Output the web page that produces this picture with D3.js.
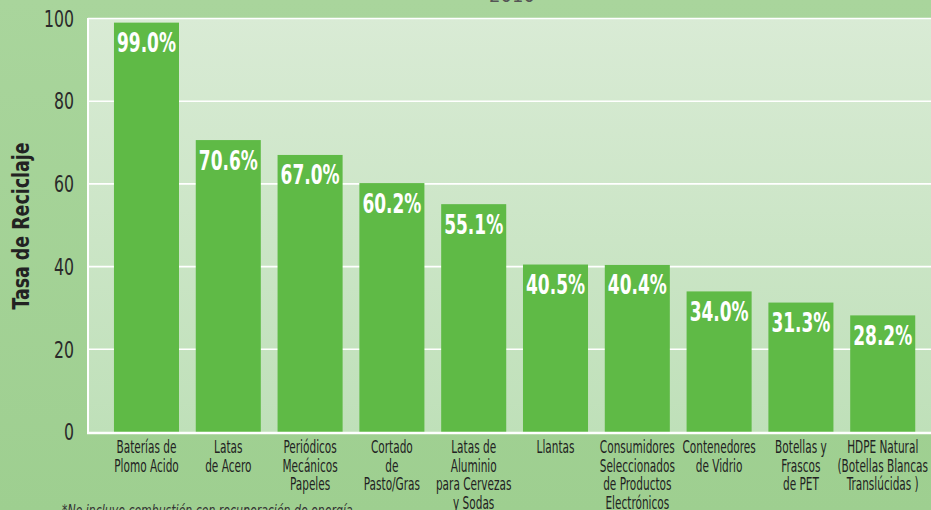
<!DOCTYPE html>
<html>
<head>
<meta charset="utf-8">
<script src="https://cdn.jsdelivr.net/npm/d3@7"></script>
<style>
	body { margin: 0; background: #a2d294; overflow: hidden; }
	svg { display: block; }
</style>
</head>
<body>
<div id="container"></div>
<script>
// chart values
var categories = [
	["Baterías de", "Plomo Acido"],
	["Latas", "de Acero"],
	["Periódicos", "Mecánicos", "Papeles"],
	["Cortado", "de", "Pasto/Gras"],
	["Latas de", "Aluminio", "para Cervezas", "y Sodas"],
	["Llantas"],
	["Consumidores", "Seleccionados", "de Productos", "Electrónicos"],
	["Contenedores", "de Vidrio"],
	["Botellas y", "Frascos", "de PET"],
	["HDPE Natural", "(Botellas Blancas", "Translúcidas )"]
];
var rates = [99.0, 70.6, 67.0, 60.2, 55.1, 40.5, 40.4, 34.0, 31.3, 28.2];
var yTicks = [0, 20, 40, 60, 80, 100];
var titleText = "2010";
var yLabel = "Tasa de Reciclaje";
var footnote = "*No incluye combustión con recuperación de energía";

var W = 931, H = 510;
var plotLeft = 88, plotTop = 18, plotBottom = 432;

var narrow = "'Liberation Sans Narrow', 'DejaVu Sans Condensed', 'Liberation Sans', sans-serif";

var svg = d3.select("#container").append("svg")
	.attr("width", W)
	.attr("height", H);

// the original uses a very compressed face, so squeeze text horizontally:
// measure a sample string and return the x scale that gives the wanted width
function squeeze(str, size, weight, style, target) {
	var t = svg.append("text")
		.style("font-family", narrow)
		.style("font-size", size + "px")
		.style("font-weight", weight)
		.style("font-style", style)
		.text(str);
	var w = t.node().getComputedTextLength();
	t.remove();
	return target / w;
}

var sVal = squeeze("99.0%", 26, "bold", "normal", 59);
var sCat = squeeze("Baterías de", 17.5, "normal", "normal", 60);
var sTick = squeeze("100", 23, "normal", "normal", 30);
var sYlab = squeeze(yLabel, 23, "bold", "normal", 167);
var sFoot = squeeze(footnote, 15, "normal", "italic", 291);

// background gradients
var defs = svg.append("defs");
var pg = defs.append("linearGradient").attr("id", "plotBg")
	.attr("x1", 0).attr("y1", 0).attr("x2", 0).attr("y2", 1);
pg.append("stop").attr("offset", "0%").attr("stop-color", "#d9ebd5");
pg.append("stop").attr("offset", "100%").attr("stop-color", "#bfe0b9");

var bg = defs.append("linearGradient").attr("id", "pageBg")
	.attr("x1", 0).attr("y1", 0).attr("x2", 0).attr("y2", 1);
bg.append("stop").attr("offset", "0%").attr("stop-color", "#a9d59c");
bg.append("stop").attr("offset", "100%").attr("stop-color", "#9ecf90");

svg.insert("rect", ":first-child")
	.attr("width", W).attr("height", H)
	.style("fill", "url(#pageBg)");

// scales
var x = d3.scaleBand()
	.domain(d3.range(rates.length))
	.range([97.6, 931.6])
	.paddingInner(0.205)
	.paddingOuter(0.2);

var y = d3.scaleLinear()
	.domain([0, 100])
	.range([plotBottom, plotTop + 0.5]);

// plot area
svg.append("rect")
	.attr("x", plotLeft)
	.attr("y", plotTop)
	.attr("width", W - plotLeft + 5)
	.attr("height", plotBottom - plotTop)
	.style("fill", "url(#plotBg)");

// gridlines
svg.selectAll(".grid")
	.data(yTicks.filter(function(d) { return d > 0; })).enter()
	.append("line")
		.attr("class", "grid")
		.attr("x1", plotLeft).attr("x2", W + 5)
		.attr("y1", function(d) { return y(d); })
		.attr("y2", function(d) { return y(d); })
		.style("stroke", "#ffffff")
		.style("stroke-width", 1.6);

// bars
svg.selectAll(".bar")
	.data(rates).enter()
	.append("rect")
		.attr("class", "bar")
		.attr("x", function(d, i) { return x(i); })
		.attr("y", function(d) { return y(d); })
		.attr("width", x.bandwidth())
		.attr("height", function(d) { return plotBottom - y(d); })
		.style("fill", "#5fba46");

// axis frame (left and bottom white lines)
svg.append("line")
	.attr("x1", plotLeft).attr("x2", plotLeft)
	.attr("y1", plotTop).attr("y2", plotBottom + 1)
	.style("stroke", "#ffffff").style("stroke-width", 2);
svg.append("line")
	.attr("x1", plotLeft - 1).attr("x2", W + 5)
	.attr("y1", plotBottom + 1).attr("y2", plotBottom + 1)
	.style("stroke", "#ffffff").style("stroke-width", 2.5);

// value labels inside bars
svg.selectAll(".val")
	.data(rates).enter()
	.append("text")
		.attr("class", "val")
		.attr("transform", function(d, i) {
			return "translate(" + (x(i) + x.bandwidth() / 2) + "," + (y(d) + 29.5) + ") scale(" + sVal + ",1)";
		})
		.style("text-anchor", "middle")
		.style("font-family", narrow)
		.style("font-weight", "bold")
		.style("font-size", "26px")
		.style("fill", "#ffffff")
		.text(function(d) { return d.toFixed(1) + "%"; });

// y tick labels
svg.selectAll(".ytick")
	.data(yTicks).enter()
	.append("text")
		.attr("class", "ytick")
		.attr("transform", function(d) { return "translate(74," + y(d) + ") scale(" + sTick + ",1)"; })
		.attr("dy", "0.36em")
		.style("text-anchor", "end")
		.style("font-family", narrow)
		.style("font-size", "23px")
		.style("fill", "#2a2a2a")
		.text(function(d) { return d; });

// y axis title
svg.append("text")
	.attr("transform", "translate(29,226) rotate(-90) scale(" + sYlab + ",1)")
	.style("text-anchor", "middle")
	.style("font-family", narrow)
	.style("font-weight", "bold")
	.style("font-size", "23px")
	.style("fill", "#222222")
	.text(yLabel);

// category labels, one tspan per line
var cat = svg.selectAll(".cat")
	.data(categories).enter()
	.append("text")
		.attr("class", "cat")
		.attr("transform", function(d, i) {
			return "translate(" + (x(i) + x.bandwidth() / 2) + ",453) scale(" + sCat + ",1)";
		})
		.style("text-anchor", "middle")
		.style("font-family", narrow)
		.style("font-size", "17.5px")
		.style("fill", "#222222");

cat.selectAll("tspan")
	.data(function(d) { return d; }).enter()
	.append("tspan")
		.attr("x", 0)
		.attr("y", function(d, j) { return j * 18.7; })
		.text(function(d) { return d; });

// title, mostly cut off at the top
svg.append("text")
	.attr("x", 512)
	.attr("y", 2)
	.style("text-anchor", "middle")
	.style("font-family", narrow)
	.style("font-size", "20px")
	.style("fill", "#555555")
	.text(titleText);

// footnote, cut off at the bottom
svg.append("text")
	.attr("transform", "translate(62,516) scale(" + sFoot + ",1)")
	.style("font-family", narrow)
	.style("font-style", "italic")
	.style("font-size", "15px")
	.style("fill", "#333333")
	.text(footnote);
</script>
</body>
</html>
